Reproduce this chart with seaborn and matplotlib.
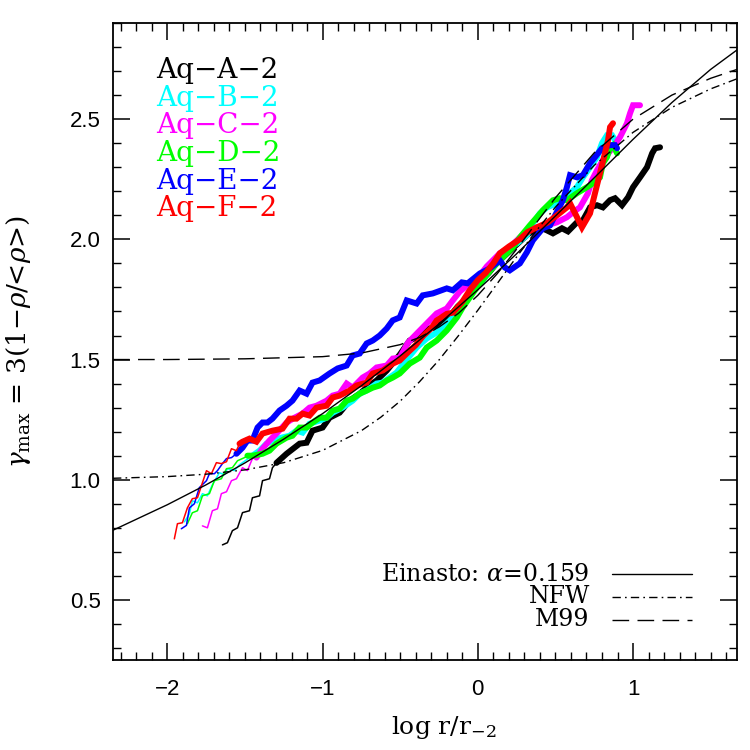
import matplotlib
matplotlib.use("Agg")
import matplotlib.pyplot as plt
import seaborn as sns
import pandas as pd
from matplotlib.ticker import MultipleLocator

# ---------------- data ----------------
# Aq-A-2 (black)
a_thin_x = [-1.645, -1.613, -1.581, -1.548, -1.516, -1.471, -1.452, -1.406, -1.387, -1.342, -1.323, -1.297]
a_thin_y = [0.729, 0.738, 0.788, 0.800, 0.863, 0.871, 0.925, 0.933, 0.996, 1.004, 1.050, 1.070]
a_x = [-1.297, -1.232, -1.148, -1.103, -1.065, -1.0, -0.955, -0.890, -0.826, -0.761, -0.716, -0.652,
       -0.587, -0.503, -0.439, -0.394, -0.329, -0.265, -0.226, -0.18, -0.13, -0.08, -0.03, 0.02, 0.07,
       0.12, 0.17, 0.22, 0.27, 0.32, 0.37, 0.40, 0.445, 0.484, 0.542, 0.581, 0.639, 0.677, 0.723,
       0.768, 0.806, 0.852, 0.884, 0.929, 0.968, 1.0, 1.045, 1.09, 1.123, 1.142, 1.174]
a_y = [1.070, 1.108, 1.150, 1.154, 1.204, 1.217, 1.258, 1.279, 1.329, 1.358, 1.383, 1.413,
       1.454, 1.520, 1.579, 1.592, 1.628, 1.633, 1.658, 1.68, 1.72, 1.75, 1.79, 1.83, 1.86,
       1.90, 1.93, 1.96, 1.99, 2.02, 2.04, 2.05, 2.0375, 2.025, 2.046, 2.033, 2.071, 2.079, 2.133,
       2.142, 2.133, 2.163, 2.171, 2.142, 2.175, 2.217, 2.258, 2.300, 2.358, 2.379, 2.383]

# Aq-B-2 (cyan)
b_thin_x = [-1.890, -1.858, -1.839, -1.806, -1.774, -1.742, -1.710, -1.684, -1.665, -1.632, -1.613,
            -1.568, -1.535, -1.490, -1.452]
b_thin_y = [0.825, 0.858, 0.9125, 0.904, 0.942, 0.933, 0.979, 1.008, 1.029, 1.021, 1.046,
            1.038, 1.0625, 1.083, 1.100]
b_x = [-1.452, -1.406, -1.361, -1.323, -1.265, -1.213, -1.168, -1.129, -1.084, -1.019, -0.974,
       -0.935, -0.871, -0.806, -0.761, -0.716, -0.652, -0.613, -0.568, -0.523, -0.458, -0.394,
       -0.329, -0.265, -0.2, -0.161, -0.097, -0.032, 0.032, 0.077, 0.142, 0.206, 0.252, 0.316,
       0.355, 0.4, 0.445, 0.51, 0.548, 0.594, 0.639, 0.677, 0.723, 0.768, 0.8, 0.832, 0.865, 0.884]
b_y = [1.100, 1.121, 1.150, 1.1625, 1.175, 1.183, 1.204, 1.196, 1.233, 1.246, 1.258,
       1.279, 1.300, 1.329, 1.358, 1.371, 1.400, 1.404, 1.425, 1.446, 1.500, 1.550,
       1.5875, 1.6125, 1.650, 1.675, 1.733, 1.7875, 1.829, 1.871, 1.9125, 1.967, 1.983, 2.017,
       2.067, 2.108, 2.133, 2.150, 2.1625, 2.192, 2.217, 2.258, 2.300, 2.342, 2.400, 2.433, 2.433, 2.4125]

# Aq-C-2 (magenta)
c_thin_x = [-1.774, -1.742, -1.710, -1.677, -1.652, -1.619, -1.587, -1.555, -1.516, -1.484, -1.452, -1.426]
c_thin_y = [0.808, 0.800, 0.871, 0.879, 0.942, 0.950, 0.996, 1.004, 1.050, 1.038, 1.088, 1.092]
c_x = [-1.426, -1.387, -1.342, -1.297, -1.232, -1.181, -1.129, -1.084, -1.039, -0.974, -0.935,
       -0.890, -0.845, -0.806, -0.742, -0.697, -0.652, -0.587, -0.548, -0.503, -0.45, -0.39,
       -0.329, -0.265, -0.2, -0.161, -0.116, -0.052, 0.013, 0.058, 0.142, 0.206, 0.271, 0.316,
       0.381, 0.445, 0.51, 0.574, 0.613, 0.658, 0.71, 0.735, 0.768, 0.806, 0.871, 0.916, 0.961,
       0.981, 1.0, 1.045]
c_y = [1.092, 1.129, 1.163, 1.192, 1.2375, 1.258, 1.275, 1.300, 1.308, 1.329, 1.350,
       1.358, 1.400, 1.383, 1.425, 1.442, 1.467, 1.475, 1.504, 1.508, 1.570, 1.610,
       1.650, 1.692, 1.7125, 1.746, 1.783, 1.817, 1.850, 1.8875, 1.942, 1.967, 2.008, 2.0375,
       2.050, 2.058, 2.071, 2.092, 2.1125, 2.133, 2.192, 2.246, 2.2875, 2.329, 2.383, 2.425, 2.483,
       2.525, 2.558, 2.558]

# Aq-D-2 (green)
d_thin_x = [-1.871, -1.839, -1.806, -1.774, -1.729, -1.697, -1.652, -1.619, -1.581, -1.548, -1.503, -1.484]
d_thin_y = [0.817, 0.8625, 0.871, 0.933, 0.942, 0.996, 1.004, 1.046, 1.050, 1.079, 1.092, 1.100]
d_x = [-1.484, -1.452, -1.387, -1.342, -1.297, -1.232, -1.194, -1.148, -1.103, -1.065, -1.019,
       -0.974, -0.935, -0.890, -0.845, -0.806, -0.761, -0.716, -0.677, -0.632, -0.587, -0.548,
       -0.503, -0.439, -0.374, -0.329, -0.265, -0.2, -0.135, -0.097, -0.052, -0.006, 0.045,
       0.097, 0.161, 0.226, 0.271, 0.335, 0.381, 0.419, 0.484, 0.529, 0.574, 0.639, 0.703,
       0.742, 0.787, 0.806, 0.832, 0.852, 0.871, 0.897]
d_y = [1.100, 1.100, 1.108, 1.121, 1.150, 1.175, 1.183, 1.217, 1.217, 1.2375, 1.258,
       1.258, 1.2875, 1.296, 1.329, 1.3375, 1.358, 1.371, 1.383, 1.392, 1.4125, 1.425,
       1.442, 1.483, 1.508, 1.550, 1.579, 1.621, 1.675, 1.717, 1.758, 1.800, 1.842,
       1.883, 1.925, 1.967, 2.008, 2.058, 2.092, 2.121, 2.1625, 2.171, 2.1625, 2.192, 2.217,
       2.233, 2.258, 2.317, 2.342, 2.383, 2.392, 2.358]

# Aq-E-2 (blue)
e_thin_x = [-1.910, -1.877, -1.858, -1.826, -1.794, -1.748, -1.729, -1.697, -1.677, -1.645,
            -1.619, -1.587, -1.555]
e_thin_y = [0.796, 0.810, 0.883, 0.900, 0.967, 0.996, 1.025, 1.025, 1.038, 1.067,
            1.088, 1.092, 1.108]
e_x = [-1.555, -1.516, -1.484, -1.452, -1.419, -1.387, -1.355, -1.323, -1.277, -1.232, -1.194,
       -1.148, -1.103, -1.065, -1.019, -0.955, -0.903, -0.845, -0.806, -0.761, -0.716, -0.677,
       -0.632, -0.587, -0.548, -0.503, -0.458, -0.394, -0.355, -0.290, -0.2, -0.161, -0.103,
       -0.065, 0.013, 0.077, 0.142, 0.174, 0.206, 0.271, 0.316, 0.355, 0.419, 0.465, 0.548,
       0.574, 0.594, 0.639, 0.677, 0.723, 0.755, 0.8, 0.852, 0.884, 0.897]
e_y = [1.108, 1.133, 1.163, 1.163, 1.217, 1.238, 1.238, 1.254, 1.288, 1.308, 1.329,
       1.371, 1.358, 1.404, 1.413, 1.442, 1.463, 1.475, 1.517, 1.525, 1.567, 1.579,
       1.600, 1.629, 1.663, 1.675, 1.746, 1.733, 1.767, 1.775, 1.796, 1.788, 1.821,
       1.817, 1.858, 1.879, 1.9125, 1.883, 1.871, 1.900, 1.946, 1.996, 2.046, 2.058, 2.1625,
       2.217, 2.267, 2.258, 2.267, 2.317, 2.342, 2.379, 2.392, 2.392, 2.379]

# Aq-F-2 (red)
f_thin_x = [-1.955, -1.935, -1.903, -1.871, -1.839, -1.806, -1.774, -1.748, -1.716, -1.684,
            -1.652, -1.619, -1.587, -1.555, -1.535]
f_thin_y = [0.754, 0.817, 0.821, 0.883, 0.921, 0.925, 0.9875, 1.0375, 1.025, 1.071,
            1.067, 1.075, 1.129, 1.121, 1.150]
f_x = [-1.535, -1.516, -1.471, -1.426, -1.387, -1.323, -1.258, -1.213, -1.168, -1.129, -1.084,
       -1.039, -0.974, -0.935, -0.890, -0.826, -0.781, -0.716, -0.677, -0.613, -0.548, -0.503,
       -0.45, -0.40, -0.35, -0.30, -0.265, -0.2, -0.16, -0.10, -0.05, 0.0, 0.05, 0.10, 0.142,
       0.20, 0.27, 0.32, 0.38, 0.45, 0.51, 0.574, 0.594, 0.633, 0.671, 0.723, 0.755, 0.787,
       0.819, 0.839, 0.852, 0.871]
f_y = [1.150, 1.158, 1.171, 1.158, 1.192, 1.204, 1.2125, 1.254, 1.254, 1.275, 1.267,
       1.300, 1.308, 1.342, 1.350, 1.371, 1.392, 1.404, 1.442, 1.454, 1.483, 1.496,
       1.530, 1.560, 1.600, 1.630, 1.6625, 1.690, 1.695, 1.740, 1.790, 1.830, 1.860, 1.900, 1.942,
       1.970, 2.000, 2.030, 2.050, 2.070, 2.100, 2.133, 2.150, 2.100, 2.050, 2.108, 2.192, 2.275,
       2.358, 2.4125, 2.467, 2.483]

# model curves
ein_x = [-2.35, -2.0, -1.75, -1.5, -1.25, -1.0, -0.75, -0.5, -0.25, 0.0, 0.25, 0.5, 0.75, 1.0,
         1.25, 1.5, 1.67]
ein_y = [0.790, 0.896, 0.979, 1.070, 1.169, 1.275, 1.391, 1.515, 1.648, 1.790, 1.940, 2.097,
         2.256, 2.416, 2.569, 2.707, 2.788]
nfw_x = [-2.35, -2.0, -1.75, -1.5, -1.25, -1.0, -0.75, -0.625, -0.5, -0.375, -0.25, -0.125,
         0.0, 0.125, 0.25, 0.375, 0.5, 0.75, 1.0, 1.25, 1.5, 1.67]
nfw_y = [1.006, 1.013, 1.023, 1.041, 1.071, 1.122, 1.204, 1.260, 1.327, 1.408, 1.498, 1.599,
         1.705, 1.816, 1.927, 2.034, 2.134, 2.308, 2.445, 2.549, 2.626, 2.668]
m99_x = [-2.35, -2.0, -1.5, -1.0, -0.75, -0.5, -0.375, -0.25, -0.125, 0.0, 0.125, 0.25,
         0.375, 0.5, 0.75, 1.0, 1.25, 1.5, 1.67]
m99_y = [1.500, 1.500, 1.503, 1.512, 1.527, 1.562, 1.592, 1.635, 1.692, 1.767, 1.857, 1.959,
         2.067, 2.173, 2.360, 2.500, 2.600, 2.670, 2.707]

halo_names = ["Aq−A−2", "Aq−B−2", "Aq−C−2", "Aq−D−2", "Aq−E−2", "Aq−F−2"]
halo_colors = ["#000000", "#00ffff", "#ff00ff", "#00ff00", "#0000ff", "#ff0000"]
model_labels = ["Einasto: $\\alpha$=0.159", "NFW", "M99"]

# ---------------- style ----------------
sns.set_theme(style="ticks")
plt.rcParams.update({
    "font.family": ["DejaVu Serif"],
    "mathtext.fontset": "dejavuserif",
    "lines.scale_dashes": False,
    "text.color": "black",
    "axes.labelcolor": "black",
    "axes.linewidth": 1.3,
    "xtick.direction": "in",
    "ytick.direction": "in",
    "xtick.top": True,
    "ytick.right": True,
    "xtick.major.size": 12,
    "ytick.major.size": 12,
    "xtick.minor.size": 6,
    "ytick.minor.size": 6,
    "xtick.major.width": 1.1,
    "ytick.major.width": 1.1,
    "xtick.minor.width": 1.0,
    "ytick.minor.width": 1.0,
    "xtick.color": "black",
    "ytick.color": "black",
    "xtick.labelcolor": "black",
    "ytick.labelcolor": "black",
    "axes.edgecolor": "black",
})

fig = plt.figure(figsize=(7.5, 7.5), dpi=100)
ax = fig.add_axes([0.1507, 0.12, 0.832, 0.8493])

thin_sets = [(a_thin_x, a_thin_y), (b_thin_x, b_thin_y), (c_thin_x, c_thin_y),
             (d_thin_x, d_thin_y), (e_thin_x, e_thin_y), (f_thin_x, f_thin_y)]
thick_sets = [(a_x, a_y), (b_x, b_y), (c_x, c_y), (d_x, d_y), (e_x, e_y), (f_x, f_y)]

for (tx, ty), (kx, ky), col in zip(thin_sets, thick_sets, halo_colors):
    sns.lineplot(x=tx, y=ty, sort=False, estimator=None, color=col, lw=1.1, ax=ax)
    sns.lineplot(x=kx, y=ky, sort=False, estimator=None, color=col, lw=4.3, ax=ax,
                 solid_joinstyle="miter")

sns.lineplot(x=ein_x, y=ein_y, sort=False, estimator=None, color="black", lw=1.0, ax=ax)
sns.lineplot(x=nfw_x, y=nfw_y, sort=False, estimator=None, color="black", lw=1.0, ax=ax,
             linestyle=(0, (6, 3, 1.2, 3)))
sns.lineplot(x=m99_x, y=m99_y, sort=False, estimator=None, color="black", lw=1.0, ax=ax,
             linestyle=(0, (12, 6)))

ax.set_xlim(-2.35, 1.67)
ax.set_ylim(0.25, 2.9)
ax.xaxis.set_major_locator(MultipleLocator(1))
ax.xaxis.set_minor_locator(MultipleLocator(0.1))
ax.yaxis.set_major_locator(MultipleLocator(0.5))
ax.yaxis.set_minor_locator(MultipleLocator(0.1))
ax.tick_params(axis="x", which="both", pad=14, labelsize=16, colors="black")
ax.tick_params(axis="y", which="both", pad=9, labelsize=16, colors="black")
ax.yaxis.set_major_formatter(plt.FuncFormatter(lambda v, p: f"{v:.1f}"))
ax.xaxis.set_major_formatter(plt.FuncFormatter(lambda v, p: f"{v:.0f}".replace("-", "−")))
for lab in ax.get_xticklabels() + ax.get_yticklabels():
    lab.set_fontfamily("Liberation Sans")

ax.set_xlabel(r"log r/r$_{-2}$", fontsize=18, color="black")
ax.xaxis.set_label_coords(0.53, -0.085)
ax.set_ylabel(r"$\gamma_{\rm max}$ = 3(1$-\rho$/<$\rho$>)", fontsize=19, color="black")
ax.yaxis.set_label_coords(-0.128, 0.50)

# halo name labels, top-left
for i, (name, col) in enumerate(zip(halo_names, halo_colors)):
    ax.text(0.069, 0.914 - i * 0.0435, name, color=col, fontsize=20,
            transform=ax.transAxes, va="baseline", ha="left")

# model key, bottom-right
key_styles = ["-", (0, (6, 3, 1.2, 3)), (0, (12, 6))]
for i, (lab, ls) in enumerate(zip(model_labels, key_styles)):
    yk = 0.135 - i * 0.036
    ax.text(0.764, yk, lab, fontsize=17, ha="right", va="center", color="black",
            transform=ax.transAxes)
    ax.plot([0.800, 0.928], [yk, yk], color="black", lw=1.0, linestyle=ls,
            transform=ax.transAxes)

sns.despine(ax=ax, top=False, right=False)
fig.savefig("out.png", dpi=100)
